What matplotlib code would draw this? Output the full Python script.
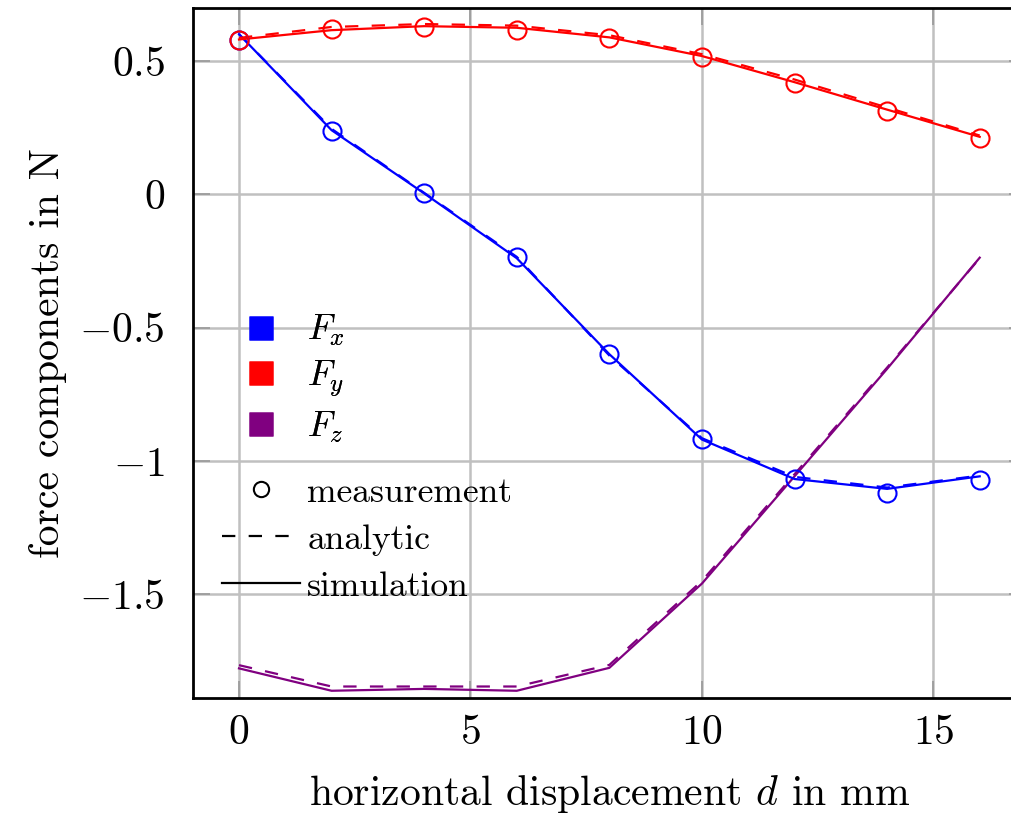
import matplotlib
matplotlib.use("Agg")
import matplotlib.pyplot as plt
from matplotlib.lines import Line2D
from matplotlib.ticker import FuncFormatter, MultipleLocator

plt.rcParams['font.family'] = 'cmr10'
plt.rcParams['mathtext.fontset'] = 'cm'
plt.rcParams['axes.formatter.use_mathtext'] = True

# ---- data ----
d = [0, 2, 4, 6, 8, 10, 12, 14, 16]

fx_meas = [0.58, 0.237, 0.005, -0.235, -0.60, -0.917, -1.067, -1.12, -1.071]
fx_ana = [0.60, 0.245, 0.005, -0.235, -0.605, -0.915, -1.06, -1.10, -1.055]
fx_sim = [0.60, 0.240, 0.003, -0.240, -0.600, -0.920, -1.068, -1.105, -1.058]

fy_meas = [0.579, 0.620, 0.627, 0.616, 0.586, 0.515, 0.417, 0.312, 0.212]
fy_ana = [0.586, 0.627, 0.638, 0.632, 0.596, 0.525, 0.430, 0.325, 0.220]
fy_sim = [0.580, 0.615, 0.630, 0.624, 0.588, 0.518, 0.420, 0.317, 0.215]

fz_ana = [-1.766, -1.846, -1.846, -1.846, -1.765, -1.450, -1.050, -0.650, -0.240]
fz_sim = [-1.778, -1.862, -1.855, -1.862, -1.776, -1.460, -1.058, -0.655, -0.238]

BLUE = '#0000ff'
RED = '#ff0000'
PURPLE = '#800080'
GRID = '#c0c0c0'

fig = plt.figure(figsize=(10.11, 8.15), dpi=100)
W, H = 1011, 815
ax = fig.add_axes([192.7 / W, 1 - 697.7 / H, (1026 - 192.7) / W, (697.7 - 8.3) / H])

lw = 1.6
dash = (0, (6, 6))
for ana, sim, c in [(fz_ana, fz_sim, PURPLE), (fx_ana, fx_sim, BLUE), (fy_ana, fy_sim, RED)]:
    ax.plot(d, ana, color=c, lw=lw, linestyle=dash, zorder=3)
    ax.plot(d, sim, color=c, lw=lw, zorder=3)
for meas, c in [(fx_meas, BLUE), (fy_meas, RED)]:
    ax.plot(d, meas, linestyle='none', marker='o', ms=13, mfc='none', mec=c, mew=1.5, zorder=4)

ax.set_xlim(-1, 17)
ax.set_ylim(-1.888, 0.697)
ax.xaxis.set_major_locator(MultipleLocator(5))
ax.yaxis.set_major_locator(MultipleLocator(0.5))
fmt = FuncFormatter(lambda v, p: '$%g$' % v)
ax.xaxis.set_major_formatter(fmt)
ax.yaxis.set_major_formatter(fmt)
ax.grid(True, color=GRID, lw=1.8, zorder=0)
ax.set_axisbelow(True)
ax.tick_params(direction='in', length=12, width=1.2, color='#999999', top=True, right=True,
               labelsize=30)
ax.tick_params(axis='y', pad=20)
ax.tick_params(axis='x', pad=12)
for s in ax.spines.values():
    s.set_linewidth(2.0)

ax.set_xlabel('horizontal displacement $d$ in mm', fontsize=30, labelpad=15)
ax.set_ylabel('force components in N', fontsize=30, labelpad=9)

# legends
sq = dict(marker='s', linestyle='none', ms=17, mec='none')
h1 = [Line2D([], [], color=BLUE, mfc=BLUE, **sq),
      Line2D([], [], color=RED, mfc=RED, **sq),
      Line2D([], [], color=PURPLE, mfc=PURPLE, **sq)]
leg1 = fig.legend(h1, ['$F_x$', '$F_y$', '$F_z$'], loc='upper left',
                  bbox_to_anchor=(222 / W, 1 - 313 / H), frameon=False, fontsize=25.6,
                  handlelength=2.2, handletextpad=0.2, labelspacing=0.3,
                  borderpad=0, borderaxespad=0)
h2 = [Line2D([], [], color='black', marker='o', mfc='none', ms=11, mew=1.5, linestyle='none'),
      Line2D([], [], color='black', lw=lw, linestyle=dash),
      Line2D([], [], color='black', lw=lw)]
leg2 = fig.legend(h2, ['measurement', 'analytic', 'simulation'], loc='upper left',
                  bbox_to_anchor=(222 / W, 1 - 477 / H), frameon=False, fontsize=25.6,
                  handlelength=2.2, handletextpad=0.2, labelspacing=0.42,
                  borderpad=0, borderaxespad=0)
fig.add_artist(leg1)

fig.savefig('out.png', dpi=100)
